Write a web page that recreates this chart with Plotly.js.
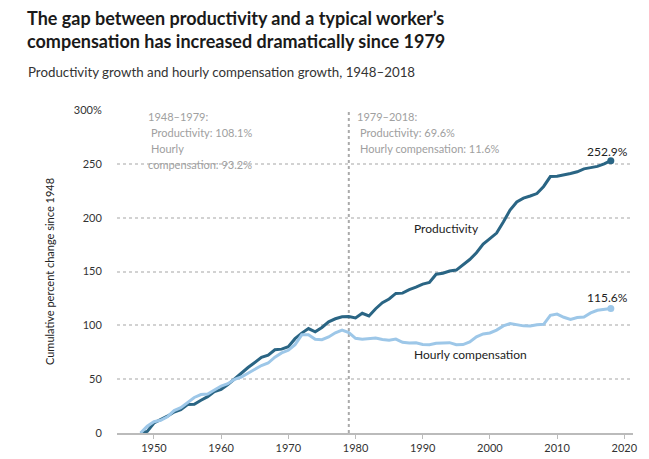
<!DOCTYPE html>
<html>
<head>
<meta charset="utf-8">
<script src="https://cdn.plot.ly/plotly-3.0.1.min.js"></script>
<style>html,body{margin:0;padding:0;background:#fff;}#chart{width:649px;height:459px;}</style>
</head>
<body>
<div id="chart"></div>
<script>
const years = [];
for (let y = 1948; y <= 2018; y++) years.push(y);

const productivity = [
  0, 1.5, 9.3, 12.4, 15.6, 19.5, 21.6, 26.4, 26.6, 30.4,
  33.8, 38.4, 40.6, 45.0, 50.7, 55.5, 60.8, 65.7, 70.2, 72.2,
  77.3, 77.9, 80.1, 87.6, 92.8, 97.0, 94.0, 98.0, 103.3, 106.1,
  107.9, 108.1, 106.8, 111.2, 108.7, 115.4, 121.0, 124.5, 129.6, 129.9,
  133.1, 135.4, 138.3, 139.8, 147.5, 148.4, 150.5, 151.3, 156.4, 161.1,
  167.4, 175.4, 180.5, 185.7, 196.0, 207.0, 214.6, 218.1, 220.1, 222.4,
  229.0, 238.2, 238.5, 239.6, 241.0, 242.6, 245.3, 246.5, 247.6, 250.0,
  252.9
];

const compensation = [
  0, 6.3, 10.5, 11.8, 15.0, 20.8, 23.5, 28.7, 33.0, 35.7,
  36.3, 40.0, 43.6, 45.8, 49.9, 52.0, 55.4, 58.7, 62.7, 65.0,
  70.4, 74.4, 76.8, 82.0, 91.2, 91.3, 87.0, 86.7, 89.2, 93.1,
  95.5, 93.2, 87.9, 87.1, 87.4, 88.2, 86.9, 86.2, 87.2, 84.2,
  83.6, 83.8, 82.3, 81.9, 83.3, 83.3, 83.9, 82.0, 82.1, 84.6,
  89.4, 92.0, 92.9, 95.6, 99.5, 101.6, 100.6, 99.5, 99.4, 100.6,
  100.9, 109.3, 110.4, 107.5, 105.5, 107.3, 107.8, 111.5, 114.0, 114.6,
  115.6
];

const yTickVals = [0, 50, 100, 150, 200, 250, 300];
const yTickText = ['0', '50', '100', '150', '200', '250', '300%'];
const xTickVals = [1950, 1960, 1970, 1980, 1990, 2000, 2010, 2020];
const splitYear = 1979;

const darkBlue = '#2a6584';
const lightBlue = '#9dc7e8';
const FONT = 'Lato, "Open Sans", sans-serif';

const last = years.length - 1;

const traces = [
  {x: years, y: productivity, type: 'scatter', mode: 'lines',
   line: {color: darkBlue, width: 3}, hoverinfo: 'skip'},
  {x: years, y: compensation, type: 'scatter', mode: 'lines',
   line: {color: lightBlue, width: 3}, hoverinfo: 'skip'},
  {x: [years[last]], y: [productivity[last]], type: 'scatter', mode: 'markers',
   marker: {color: darkBlue, size: 7}, hoverinfo: 'skip', cliponaxis: false},
  {x: [years[last]], y: [compensation[last]], type: 'scatter', mode: 'markers',
   marker: {color: lightBlue, size: 7}, hoverinfo: 'skip', cliponaxis: false}
];

const grey = '#a0a0a0';
const noteFont = {family: FONT, size: 11, color: grey};
function note(x, y, text) {
  return {xref: 'x', yref: 'y', x: x, y: y, text: text, showarrow: false,
          xanchor: 'left', yanchor: 'middle', font: noteFont};
}

// plot area: left 117, top 110, width 516, height 323
function px(xp) { return (xp - 117) / 516; }
function py(yp) { return (433 - yp) / 323; }

const annotations = [
  note(1948.85, 293.8, '1948–1979:'),
  note(1949.3, 279.3, 'Productivity: 108.1%'),
  note(1949.3, 264.4, 'Hourly'),
  note(1948.85, 249.6, 'compensation: 93.2%'),
  note(1979.85, 293.8, '1979–2018:'),
  note(1980.3, 279.3, 'Productivity: 69.6%'),
  note(1980.3, 264.4, 'Hourly compensation: 11.6%'),
  {xref: 'x', yref: 'y', x: years[last], y: productivity[last], text: productivity[last].toFixed(1) + '%',
   showarrow: false, xanchor: 'center', yanchor: 'bottom', yshift: 0, xshift: -3,
   font: {family: FONT, size: 12, color: '#222'}},
  {xref: 'x', yref: 'y', x: years[last], y: compensation[last], text: compensation[last].toFixed(1) + '%',
   showarrow: false, xanchor: 'center', yanchor: 'bottom', yshift: 2, xshift: -3,
   font: {family: FONT, size: 12, color: '#222'}},
  {xref: 'x', yref: 'y', x: 1988.4, y: 189.8, text: 'Productivity', showarrow: false,
   xanchor: 'left', yanchor: 'middle', font: {family: FONT, size: 12, color: '#222'}},
  {xref: 'x', yref: 'y', x: 1988.4, y: 72.6, text: 'Hourly compensation', showarrow: false,
   xanchor: 'left', yanchor: 'middle', font: {family: FONT, size: 12, color: '#222'}},
  {xref: 'paper', yref: 'paper', x: px(25), y: py(29.5), xanchor: 'left', yanchor: 'middle', align: 'left',
   text: '<b>The gap between productivity and a typical worker’s<br>compensation has increased dramatically since 1979</b>',
   showarrow: false, font: {family: FONT, size: 18, color: '#1a1a1a'}},
  {xref: 'paper', yref: 'paper', x: px(26), y: py(72), xanchor: 'left', yanchor: 'middle',
   text: 'Productivity growth and hourly compensation growth, 1948–2018', showarrow: false,
   font: {family: FONT, size: 13.3, color: '#333'}}
];

const layout = {
  width: 649, height: 459,
  margin: {l: 117, r: 16, t: 110, b: 26},
  paper_bgcolor: '#fff', plot_bgcolor: '#fff',
  showlegend: false,
  font: {family: FONT, color: '#222'},
  xaxis: {
    range: [1944.5, 2021.3], tickvals: xTickVals, ticks: 'outside', ticklen: 4,
    tickcolor: '#bbb', showline: true, linecolor: '#bbb', linewidth: 1.5,
    showgrid: false, zeroline: false, tickfont: {family: FONT, size: 11, color: '#333'},
    fixedrange: true
  },
  yaxis: {
    range: [0, 300], tickvals: yTickVals, ticktext: yTickText,
    ticks: 'outside', ticklen: 12, tickcolor: 'rgba(0,0,0,0)',
    showgrid: true, gridcolor: '#d2d2d2', griddash: 'dot', gridwidth: 2,
    zeroline: false, showline: false,
    tickfont: {family: FONT, size: 11, color: '#333'},
    title: {text: 'Cumulative percent change since 1948', standoff: 16,
            font: {family: FONT, size: 11, color: '#222'}},
    fixedrange: true
  },
  shapes: [
    {type: 'line', xref: 'x', yref: 'y', x0: splitYear, x1: splitYear, y0: 0, y1: 300,
     line: {color: '#aaa', width: 2, dash: 'dot'}, layer: 'below'}
  ],
  annotations: annotations
};

Plotly.newPlot('chart', traces, layout, {displayModeBar: false, staticPlot: true});
</script>
</body>
</html>
